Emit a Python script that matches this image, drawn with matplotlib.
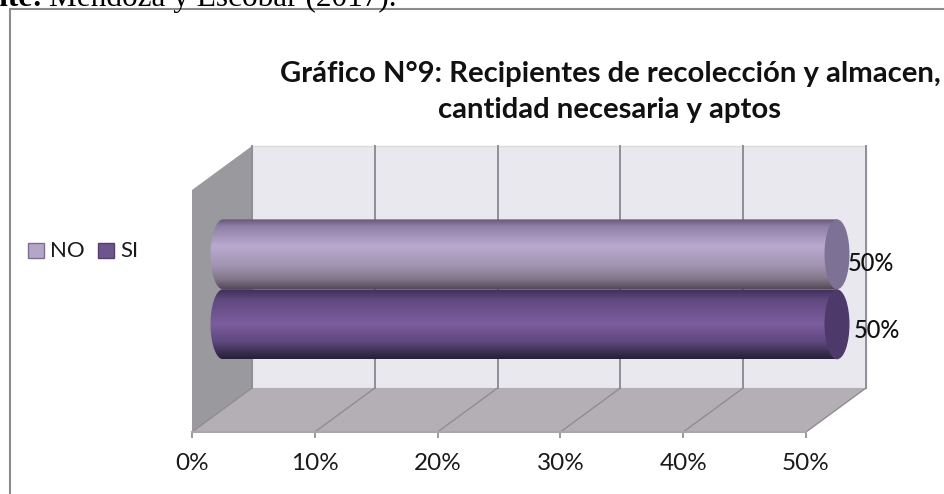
import numpy as np
import matplotlib.pyplot as plt
from matplotlib.colors import LinearSegmentedColormap
from matplotlib.patches import Ellipse, PathPatch, Polygon, Rectangle
from matplotlib.path import Path
from matplotlib.transforms import Affine2D

plt.rcParams['font.family'] = ['Lato', 'DejaVu Sans']

categories = ['SI', 'NO']
values = [50, 50]
xticks = [0, 10, 20, 30, 40, 50]
xticklabels = ['0%', '10%', '20%', '30%', '40%', '50%']
title = 'Gráfico N°9: Recipientes de recolección y almacen,\ncantidad necesaria y aptos'

W, H = 945, 494
fig = plt.figure(figsize=(W / 100, H / 100), dpi=100)

# axes = front plane of the 3d box, in pixels from the top left
left, right, top, bottom = 192, 806, 190, 432
ax = fig.add_axes([left / W, 1 - bottom / H, (right - left) / W, (bottom - top) / H])
ax.set_xlim(0, 50)
ax.set_ylim(-1.54, 1.92)
ax.patch.set_visible(False)
for s in ax.spines.values():
    s.set_visible(False)
ax.set_yticks([])
ax.set_xticks(xticks)
ax.set_xticklabels(xticklabels, fontsize=17.5, color='#1a1a1a')
ax.tick_params(axis='x', length=4, width=1.2, color='#8a8a8a', pad=11)

ymin, ymax = ax.get_ylim()
depth_x, depth_y = 60, 44

back = ax.transData + Affine2D().translate(depth_x, depth_y)

# walls
ax.add_patch(Rectangle((0, ymin), 50, ymax - ymin, fc='#e9e8ef', ec='#d8d8de', lw=1,
                       transform=back, clip_on=False, zorder=1))
ax.add_patch(Polygon([[left, H - top], [left + depth_x, H - top + depth_y],
                      [left + depth_x, H - bottom + depth_y], [left, H - bottom]],
                     fc='#9a999d', ec='none', transform=None, clip_on=False, zorder=1))
ax.add_patch(Polygon([[left, H - bottom], [right, H - bottom],
                      [right + depth_x, H - bottom + depth_y], [left + depth_x, H - bottom + depth_y]],
                     fc='#b4afb4', ec='none', transform=None, clip_on=False, zorder=1))

# grid lines on back wall and floor
for t in xticks:
    ax.plot([t, t], [ymin, ymax], color='#8f8f98', lw=1.4, transform=back, clip_on=False, zorder=2)
    x0 = ax.transData.transform((t, ymin))
    ax.plot([x0[0], x0[0] + depth_x], [x0[1], x0[1] + depth_y], color='#8f8c92', lw=1,
            transform=None, clip_on=False, zorder=2)
ax.plot([0, 50], [ymin, ymin], color='#a8a8a8', lw=1.5, clip_on=False, zorder=2)

cmap_no = LinearSegmentedColormap.from_list('no', [(0, '#66577a'), (0.1, '#8f7fa6'), (0.38, '#b9a9cf'),
                                                   (0.65, '#a496b4'), (0.85, '#85798c'), (1, '#544859')])
cmap_si = LinearSegmentedColormap.from_list('si', [(0, '#3f2f57'), (0.15, '#60497f'), (0.5, '#7c5d9e'),
                                                   (0.75, '#5f4880'), (0.92, '#382c4c'), (1, '#27203a')])
caps = {'NO': '#7d7296', 'SI': '#4e396b'}
cmaps = {'NO': cmap_no, 'SI': cmap_si}

bar_tf = ax.transData + Affine2D().translate(31, 0)
unit = (right - left) / 50
half_w = 12.5 / unit
half_h = 0.5
grad = np.linspace(0, 1, 128).reshape(-1, 1)

# NO goes first, SI overlaps it
for i in [1, 0]:
    name, val = categories[i], values[i]
    k = 0.5523
    y0, y1 = i - half_h, i + half_h
    verts = [(0, y0), (val, y0), (val, y1), (0, y1),
             (-half_w * k, y1), (-half_w, i + half_h * k), (-half_w, i),
             (-half_w, i - half_h * k), (-half_w * k, y0), (0, y0)]
    codes = [Path.MOVETO, Path.LINETO, Path.LINETO, Path.LINETO,
             Path.CURVE4, Path.CURVE4, Path.CURVE4, Path.CURVE4, Path.CURVE4, Path.CURVE4]
    clip = PathPatch(Path(verts, codes), fc='none', ec='none', transform=bar_tf, clip_on=False)
    ax.add_patch(clip)
    im = ax.imshow(grad, cmap=cmaps[name], aspect='auto', origin='upper',
                   extent=(-half_w, val, y0, y1), transform=bar_tf, zorder=3 + (1 - i) * 2)
    im.set_clip_box(fig.bbox)
    im.set_clip_path(clip)
    ax.add_patch(Ellipse((val, i), half_w * 2, half_h * 2, fc=caps[name], ec='none', transform=bar_tf,
                         clip_on=False, zorder=4 + (1 - i) * 2))

ax.set_xlim(0, 50)
ax.set_ylim(ymin, ymax)

# data labels
ax.text(values[1], 1, '50%', transform=ax.transData + Affine2D().translate(42, -9), fontsize=17,
        fontweight='medium', va='center', color='#111111', clip_on=False, zorder=8)
ax.text(values[0], 0, '50%', transform=ax.transData + Affine2D().translate(48, -6), fontsize=17,
        fontweight='medium', va='center', color='#111111', clip_on=False, zorder=8)

fig.text(610 / W, 1 - 92 / H, title, ha='center', va='center', fontsize=21.1, fontweight='bold',
         linespacing=1.52, color='#111111')

# legend
fig.patches.append(Rectangle((28 / W, 1 - 258 / H), 16 / W, 15 / H, fc='#b5a6c9', ec='#7c6f8c', lw=1,
                             transform=fig.transFigure))
fig.patches.append(Rectangle((98 / W, 1 - 258 / H), 16 / W, 15 / H, fc='#6f5590', ec='#53406c', lw=1,
                             transform=fig.transFigure))
fig.text(50 / W, 1 - 251 / H, 'NO', fontsize=16, va='center', color='#1a1a1a')
fig.text(120 / W, 1 - 251 / H, 'SI', fontsize=16, va='center', color='#1a1a1a')

# chart frame and the source line cut off above it
fig.patches.append(Rectangle((10 / W, -0.1), 1.1, 1 - 9 / H + 0.1, fc='none', ec='#8c8c8c', lw=1.5,
                             transform=fig.transFigure))
fig.text(43 / W, 1 - 6 / H, 'Fuente:', fontsize=22.5, fontweight='bold', family='Liberation Serif',
         ha='right', va='baseline', color='black')
fig.text(49 / W, 1 - 6 / H, 'Mendoza y Escobar (2017).', fontsize=22.5, family='Liberation Serif',
         ha='left', va='baseline', color='black')

fig.savefig('out.png', dpi=100)
